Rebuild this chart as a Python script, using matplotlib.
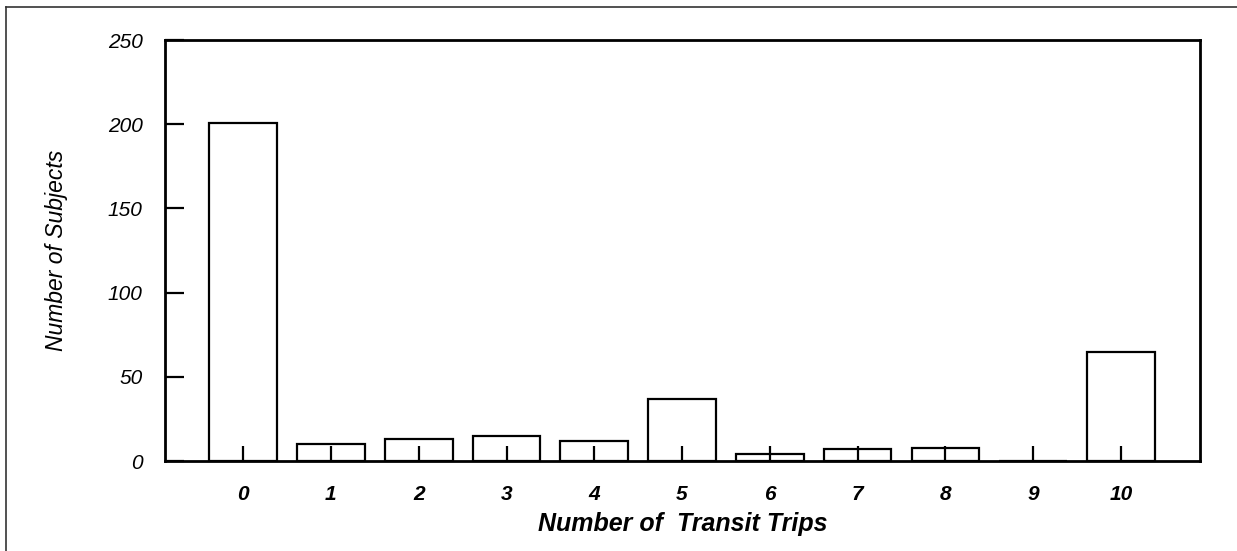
import matplotlib
matplotlib.use("Agg")
import matplotlib.pyplot as plt
from matplotlib.lines import Line2D

trips = [0, 1, 2, 3, 4, 5, 6, 7, 8, 9, 10]
subjects = [201, 10, 13, 15, 12, 37, 4, 7, 8, 0, 65]
y_ticks = [0, 50, 100, 150, 200, 250]

plt.rcParams["font.family"] = ["Liberation Sans", "DejaVu Sans"]

fig = plt.figure(figsize=(12.37, 5.51), dpi=100)
ax = fig.add_axes([0.1334, 0.1633, 0.8367, 0.7641])

ax.bar(trips, subjects, width=0.77, color="white", edgecolor="black", linewidth=1.6)

ax.set_xlim(-0.89, 10.9)
ax.set_ylim(0, 250)
ax.set_xticks(trips)
ax.set_xticklabels([str(t) for t in trips], fontsize=15, fontstyle="italic",
                   fontweight="bold")
ax.set_yticks(y_ticks)
ax.set_yticklabels([str(v) for v in y_ticks], fontsize=15, fontstyle="italic")
ax.tick_params(axis="x", direction="in", length=11, width=1.6, pad=17)
ax.tick_params(axis="y", direction="in", length=14, width=1.6, pad=16)
for s in ax.spines.values():
    s.set_linewidth(2.0)

ax.set_xlabel("Number of  Transit Trips", fontsize=18, fontweight="bold", fontstyle="italic")
ax.xaxis.set_label_coords(0.5, -0.12)
ax.set_ylabel("Number of Subjects", fontsize=16.5, fontstyle="italic")
ax.yaxis.set_label_coords(-0.0937, 0.5)

# outer frame fragments from the scanned page
fig.add_artist(Line2D([0.005, 1.0], [0.987, 0.987], color="#333333", lw=1.2))
fig.add_artist(Line2D([0.005, 0.005], [0.0, 0.987], color="#333333", lw=1.2))

fig.savefig("out.png", dpi=100)
